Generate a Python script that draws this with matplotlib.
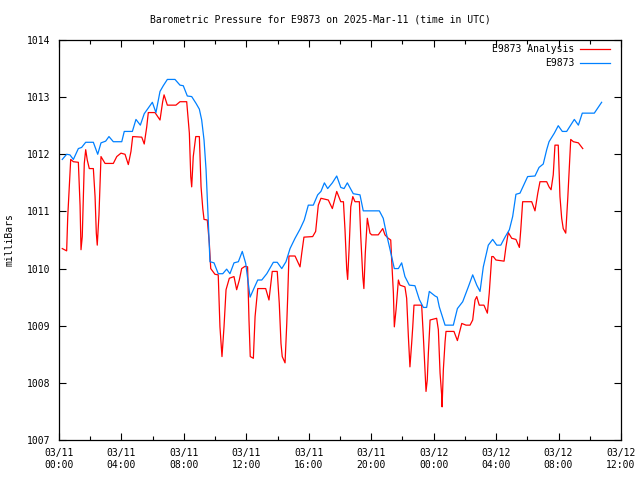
import matplotlib
matplotlib.use("Agg")
import matplotlib.pyplot as plt
from matplotlib.ticker import MultipleLocator, FixedLocator

# hours after 2025-03-11 00:00 UTC
analysis_hours = [0.21, 0.49, 0.56, 0.64, 0.75, 0.92, 1.24, 1.35, 1.41, 1.49, 1.62, 1.71, 1.81, 1.94,
                  2.20, 2.31, 2.39, 2.45, 2.56, 2.69, 2.95, 3.48, 3.70, 3.97, 4.23, 4.44, 4.61, 4.72,
                  5.30, 5.46, 5.62, 5.72, 6.15, 6.47, 6.64, 6.73, 6.94, 7.49, 7.75, 8.18, 8.35, 8.44,
                  8.50, 8.60, 8.76, 8.99, 9.10, 9.21, 9.29, 9.50, 9.63, 9.72, 9.99, 10.20, 10.31,
                  10.44, 10.57, 10.70, 10.91, 11.21, 11.38, 11.55, 11.70, 11.92, 12.08, 12.17, 12.25,
                  12.45, 12.56, 12.73, 13.24, 13.45, 13.66, 13.98, 14.11, 14.22, 14.30, 14.48, 14.59,
                  14.65, 14.73, 15.12, 15.44, 15.55, 15.69, 16.25, 16.44, 16.61, 16.78, 17.25, 17.51,
                  17.79, 18.05, 18.22, 18.32, 18.43, 18.49, 18.58, 18.69, 18.82, 18.96, 19.24, 19.33,
                  19.46, 19.53, 19.62, 19.75, 19.92, 20.03, 20.45, 20.74, 20.88, 21.09, 21.25, 21.31,
                  21.42, 21.48, 21.59, 21.74, 21.84, 22.16, 22.27, 22.38, 22.48, 22.59, 22.66, 22.74,
                  23.23, 23.34, 23.45, 23.51, 23.59, 23.66, 23.77, 24.19, 24.30, 24.41, 24.52, 24.54,
                  24.62, 24.73, 24.79, 25.30, 25.52, 25.80, 26.07, 26.33, 26.50, 26.65, 26.76, 26.92,
                  27.22, 27.44, 27.56, 27.72, 27.82, 27.99, 28.51, 28.63, 28.78, 29.00, 29.27, 29.49,
                  29.58, 29.70, 30.28, 30.49, 30.67, 30.81, 31.24, 31.39, 31.52, 31.66, 31.77, 31.98,
                  32.09, 32.20, 32.30, 32.46, 32.59, 32.67, 32.78, 32.95, 33.27, 33.55]
analysis_mb = [1010.35, 1010.31, 1010.91, 1011.32, 1011.91, 1011.87, 1011.86, 1011.10, 1010.33, 1010.56,
               1011.84, 1012.08, 1011.90, 1011.75, 1011.75, 1011.26, 1010.62, 1010.41, 1010.94, 1011.96,
               1011.84, 1011.84, 1011.96, 1012.02, 1012.00, 1011.82, 1012.05, 1012.31, 1012.30, 1012.18,
               1012.48, 1012.73, 1012.73, 1012.60, 1012.92, 1013.04, 1012.86, 1012.86, 1012.92, 1012.92,
               1012.37, 1011.61, 1011.43, 1011.96, 1012.31, 1012.31, 1011.43, 1011.05, 1010.86, 1010.85,
               1010.44, 1010.00, 1009.90, 1009.89, 1008.98, 1008.46, 1008.98, 1009.63, 1009.83, 1009.86,
               1009.63, 1009.80, 1010.00, 1010.04, 1010.03, 1009.10, 1008.46, 1008.43, 1009.16, 1009.65,
               1009.65, 1009.45, 1009.95, 1009.95, 1009.39, 1008.69, 1008.46, 1008.35, 1009.04, 1009.51,
               1010.22, 1010.22, 1010.03, 1010.27, 1010.55, 1010.56, 1010.65, 1011.11, 1011.23, 1011.20,
               1011.05, 1011.35, 1011.17, 1011.17, 1010.68, 1009.99, 1009.81, 1010.33, 1011.08, 1011.26,
               1011.17, 1011.17, 1010.56, 1009.86, 1009.65, 1010.27, 1010.88, 1010.62, 1010.59, 1010.59,
               1010.70, 1010.59, 1010.53, 1010.50, 1010.15, 1009.57, 1008.98, 1009.28, 1009.80, 1009.71,
               1009.68, 1009.48, 1008.81, 1008.28, 1008.69, 1008.98, 1009.36, 1009.36, 1008.81, 1008.20,
               1007.85, 1008.05, 1008.52, 1009.10, 1009.13, 1008.93, 1008.17, 1007.76, 1007.58, 1008.23,
               1008.72, 1008.90, 1008.90, 1008.74, 1009.04, 1009.01, 1009.01, 1009.10, 1009.45, 1009.51,
               1009.36, 1009.36, 1009.22, 1009.57, 1010.21, 1010.21, 1010.15, 1010.13, 1010.38, 1010.63,
               1010.53, 1010.51, 1010.37, 1010.68, 1011.17, 1011.17, 1011.01, 1011.32, 1011.52, 1011.52,
               1011.43, 1011.38, 1011.64, 1012.16, 1012.16, 1011.26, 1010.88, 1010.70, 1010.62, 1011.23,
               1011.67, 1012.26, 1012.22, 1012.20, 1012.10]

station_hours = [0.21, 0.49, 0.70, 0.92, 1.24, 1.45, 1.71, 2.20, 2.48, 2.69, 2.99, 3.20, 3.48, 4.02,
                 4.18, 4.70, 4.93, 5.21, 5.46, 5.98, 6.21, 6.47, 6.68, 6.94, 7.43, 7.75, 7.96, 8.22,
                 8.50, 8.78, 8.99, 9.14, 9.29, 9.42, 9.56, 9.67, 9.93, 10.20, 10.49, 10.74, 10.95,
                 11.21, 11.49, 11.74, 11.96, 12.24, 12.45, 12.73, 12.99, 13.31, 13.73, 13.98, 14.27,
                 14.54, 14.80, 15.12, 15.44, 15.71, 15.97, 16.29, 16.57, 16.78, 17.00, 17.21, 17.51,
                 17.79, 18.05, 18.26, 18.47, 18.85, 19.28, 19.49, 20.52, 20.77, 20.99, 21.20, 21.48,
                 21.74, 21.95, 22.16, 22.44, 22.80, 23.08, 23.34, 23.55, 23.72, 24.09, 24.23, 24.36,
                 24.73, 25.26, 25.52, 25.86, 26.22, 26.50, 26.76, 26.97, 27.18, 27.50, 27.78, 28.04,
                 28.30, 28.57, 28.85, 29.06, 29.27, 29.53, 30.02, 30.49, 30.75, 31.02, 31.24, 31.39,
                 31.73, 31.98, 32.24, 32.52, 33.01, 33.27, 33.52, 34.29, 34.76]
station_mb = [1011.91, 1012.00, 1011.99, 1011.91, 1012.10, 1012.12, 1012.21, 1012.21, 1012.00, 1012.20,
              1012.23, 1012.31, 1012.22, 1012.22, 1012.40, 1012.40, 1012.61, 1012.51, 1012.71, 1012.91,
              1012.73, 1013.10, 1013.20, 1013.31, 1013.31, 1013.21, 1013.20, 1013.02, 1013.01, 1012.89,
              1012.79, 1012.60, 1012.25, 1011.73, 1010.85, 1010.12, 1010.10, 1009.91, 1009.91, 1009.99,
              1009.91, 1010.10, 1010.12, 1010.30, 1010.09, 1009.50, 1009.63, 1009.80, 1009.80, 1009.91,
              1010.11, 1010.11, 1010.00, 1010.12, 1010.35, 1010.53, 1010.69, 1010.85, 1011.11, 1011.11,
              1011.29, 1011.35, 1011.50, 1011.40, 1011.50, 1011.62, 1011.42, 1011.40, 1011.50, 1011.31,
              1011.29, 1011.01, 1011.01, 1010.88, 1010.59, 1010.34, 1010.00, 1010.00, 1010.10, 1009.86,
              1009.71, 1009.70, 1009.46, 1009.32, 1009.32, 1009.60, 1009.52, 1009.50, 1009.33, 1009.01,
              1009.01, 1009.30, 1009.42, 1009.68, 1009.89, 1009.71, 1009.60, 1010.03, 1010.41, 1010.51,
              1010.41, 1010.41, 1010.55, 1010.68, 1010.91, 1011.30, 1011.32, 1011.61, 1011.62, 1011.77,
              1011.83, 1012.08, 1012.22, 1012.37, 1012.50, 1012.40, 1012.40, 1012.61, 1012.51, 1012.72,
              1012.72, 1012.91]

tick_hours = [0, 4, 8, 12, 16, 20, 24, 28, 32, 36]
tick_labels = ["03/11\n00:00", "03/11\n04:00", "03/11\n08:00", "03/11\n12:00", "03/11\n16:00",
               "03/11\n20:00", "03/12\n00:00", "03/12\n04:00", "03/12\n08:00", "03/12\n12:00"]

plt.rcParams['font.family'] = ['DejaVu Sans Mono']
plt.rcParams['font.size'] = 7

fig = plt.figure(figsize=(6.4, 4.8), dpi=100)
ax = fig.add_axes([59 / 640, 40 / 480, 562 / 640, 400 / 480])

red = '#ff0000'
blue = '#0080ff'
ax.plot(analysis_hours, analysis_mb, color=red, lw=0.9)
ax.plot(station_hours, station_mb, color=blue, lw=0.9)

ax.set_xlim(0, 36)
ax.set_ylim(1007, 1014)
ax.xaxis.set_major_locator(FixedLocator(tick_hours))
ax.set_xticklabels(tick_labels)
ax.xaxis.set_minor_locator(MultipleLocator(2))
ax.yaxis.set_major_locator(MultipleLocator(1))
ax.yaxis.set_major_formatter(plt.FuncFormatter(lambda v, p: "%d" % v))
ax.tick_params(which='both', direction='in', top=True, right=True, width=0.8, colors='black')
ax.tick_params(which='major', length=5, pad=6)
ax.tick_params(which='minor', length=3)
for s in ax.spines.values():
    s.set_linewidth(0.9)

fig.text(10 / 640, 0.5, "milliBars", rotation=90, ha='center', va='center')
fig.text(0.5, 1 - 19 / 480, "Barometric Pressure for E9873 on 2025-Mar-11 (time in UTC)",
         ha='center', va='center')

# legend, gnuplot style (text right aligned, sample on the right)
for i, (name, c) in enumerate([("E9873 Analysis", red), ("E9873", blue)]):
    yy = 1 - (9 + 14 * i) / 400
    ax.text(1 - 47 / 562, yy, name, transform=ax.transAxes, ha='right', va='center')
    ax.plot([1 - 41 / 562, 1 - 11 / 562], [yy, yy], transform=ax.transAxes, color=c, lw=0.9)

fig.savefig("out.png", dpi=100)
